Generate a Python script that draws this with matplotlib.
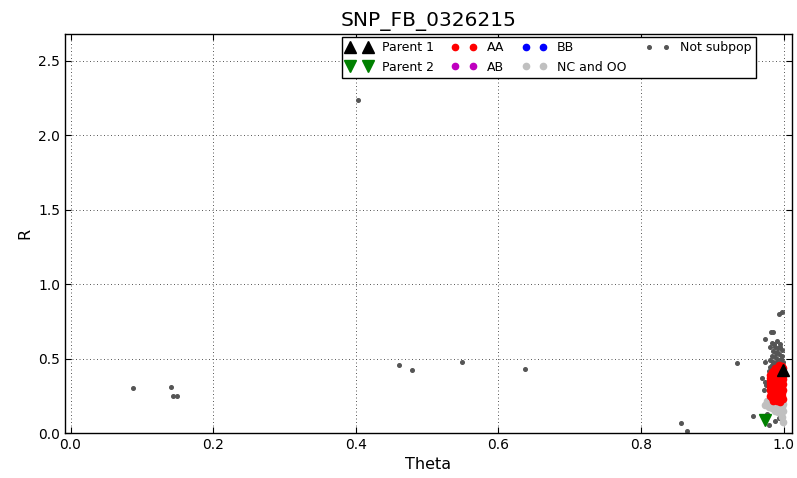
import numpy as np
import matplotlib
matplotlib.use("Agg")
from matplotlib import pyplot as plt

snp_name = "SNP_FB_0326215"

# parents
p1_theta = [0.999]
p1_r = [0.425]
p2_theta = [0.973]
p2_r = [0.085]

# called genotypes
aa_theta = [0.993, 0.997,
            0.988, 0.992, 0.996, 0.999, 0.985,
            0.983, 0.987, 0.991, 0.995, 0.999,
            0.981, 0.985, 0.989, 0.993, 0.997, 0.999,
            0.980, 0.984, 0.988, 0.992, 0.996, 0.999,
            0.981, 0.985, 0.989, 0.993, 0.997,
            0.980, 0.984, 0.988, 0.992, 0.996, 0.999,
            0.981, 0.985, 0.989, 0.993, 0.997,
            0.980, 0.984, 0.988, 0.992, 0.996, 0.999,
            0.982, 0.986, 0.990, 0.994, 0.998,
            0.981, 0.985, 0.989, 0.993, 0.997,
            0.983, 0.987, 0.991, 0.995, 0.999,
            0.985, 0.990, 0.995]
aa_r = [0.455, 0.450,
        0.435, 0.438, 0.432, 0.440, 0.420,
        0.412, 0.415, 0.410, 0.414, 0.405,
        0.392, 0.395, 0.390, 0.394, 0.388, 0.385,
        0.372, 0.375, 0.370, 0.374, 0.368, 0.365,
        0.352, 0.355, 0.350, 0.354, 0.348,
        0.332, 0.335, 0.330, 0.334, 0.328, 0.326,
        0.312, 0.315, 0.310, 0.314, 0.308,
        0.292, 0.295, 0.290, 0.294, 0.288, 0.286,
        0.272, 0.275, 0.270, 0.274, 0.268,
        0.252, 0.255, 0.250, 0.254, 0.248,
        0.232, 0.235, 0.230, 0.234, 0.228,
        0.212, 0.214, 0.210]
ab_theta = []
ab_r = []
bb_theta = []
bb_r = []
nc_theta = [0.976, 0.977, 0.981, 0.985, 0.989, 0.993, 0.997, 0.999,
            0.983, 0.987, 0.990, 0.995, 0.999, 0.992, 0.998, 0.999, 0.996,
            0.974, 0.979]
nc_r = [0.215, 0.200, 0.190, 0.182, 0.176, 0.181, 0.172, 0.192,
        0.165, 0.150, 0.158, 0.152, 0.146, 0.138, 0.105, 0.072, 0.205,
        0.190, 0.172]

# everything outside the subpopulation
ns_theta = [0.0877, 0.1405, 0.1437, 0.149, 0.403, 0.4607, 0.479, 0.549,
            0.6365, 0.934, 0.856, 0.865, 0.957,
            0.993, 0.9975, 0.982, 0.985, 0.974, 0.984, 0.980, 0.974,
            0.990, 0.995, 0.988, 0.992, 0.997, 0.985, 0.989, 0.994,
            0.998, 0.983, 0.987, 0.991, 0.996, 0.981, 0.985, 0.989,
            0.993, 0.997, 0.999, 0.983, 0.987, 0.980, 0.979, 0.991,
            0.995, 0.986, 0.973, 0.975, 0.972, 0.970,
            0.979, 0.988, 0.994, 0.976]
ns_r = [0.302, 0.309, 0.249, 0.249, 2.238, 0.459, 0.421, 0.479,
        0.428, 0.468, 0.065, 0.016, 0.116,
        0.800, 0.810, 0.680, 0.680, 0.630, 0.607, 0.580, 0.475,
        0.620, 0.600, 0.580, 0.570, 0.560, 0.550, 0.540, 0.530,
        0.520, 0.520, 0.510, 0.500, 0.495, 0.490, 0.480, 0.470,
        0.470, 0.460, 0.480, 0.460, 0.450, 0.445, 0.420, 0.545,
        0.575, 0.595, 0.345, 0.320, 0.290, 0.370,
        0.054, 0.080, 0.099, 0.130]

fig = plt.figure(figsize=(7.97, 4.78), dpi=100)
ax = fig.add_axes([0.0816, 0.0941, 0.9121, 0.8348])

h_ns, = ax.plot(ns_theta, ns_r, 'o', color='#555555', mec='#555555', ms=2.6, label='Not subpop')
h_nc, = ax.plot(nc_theta, nc_r, 'o', color='#c0c0c0', mec='#c0c0c0', ms=4.5, label='NC and OO')
h_aa, = ax.plot(aa_theta, aa_r, 'o', color='r', mec='r', ms=4.5, label='AA')
h_ab, = ax.plot(ab_theta, ab_r, 'o', color='#bf00bf', mec='#bf00bf', ms=4.5, label='AB')
h_bb, = ax.plot(bb_theta, bb_r, 'o', color='b', mec='b', ms=4.5, label='BB')
h_p1, = ax.plot(p1_theta, p1_r, '^', color='k', mec='k', ms=9, label='Parent 1')
h_p2, = ax.plot(p2_theta, p2_r, 'v', color='g', mec='g', ms=9, label='Parent 2')

ax.set_xlim(-0.0077, 1.0115)
ax.set_ylim(0, 2.681)
ax.set_xticks([0.0, 0.2, 0.4, 0.6, 0.8, 1.0])
ax.set_yticks([0.0, 0.5, 1.0, 1.5, 2.0, 2.5])
ax.grid(True, color='0.25', linestyle=(0, (1.2, 3)), linewidth=0.6)
ax.tick_params(direction='in', top=True, right=True, labelsize=10, length=4)
for s in ax.spines.values():
    s.set_linewidth(1.0)

ax.set_title(snp_name, fontsize=14.5)
ax.set_xlabel('Theta', fontsize=11.5)
ax.set_ylabel('R', fontsize=11.5)

handles = [h_p1, h_p2, h_aa, h_ab, h_bb, h_nc, h_ns]
leg = ax.legend(handles=handles, ncol=4, numpoints=2, fontsize=9,
                loc='upper right', bbox_to_anchor=(0.950, 0.9925),
                borderaxespad=0, fancybox=False, framealpha=1,
                handlelength=2.0, columnspacing=1.45, handletextpad=0.8,
                labelspacing=0.5, borderpad=0.35)
leg.get_frame().set_edgecolor('k')
leg.get_frame().set_linewidth(1.0)

fig.savefig('out.png', dpi=100)
